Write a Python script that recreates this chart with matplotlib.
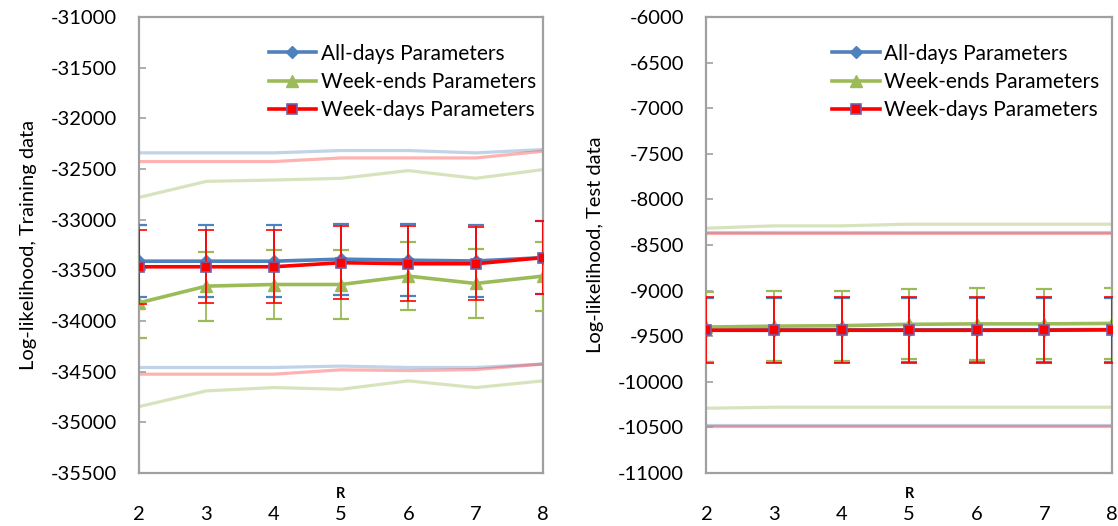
import matplotlib
matplotlib.use('Agg')
import matplotlib.pyplot as plt
from matplotlib.lines import Line2D
import numpy as np

plt.rcParams['font.family'] = ['Lato', 'DejaVu Sans']
plt.rcParams['axes.unicode_minus'] = False

# R values on the x axis
r_vals = [2, 3, 4, 5, 6, 7, 8]
labels = ['All-days Parameters', 'Week-ends Parameters', 'Week-days Parameters']

# training data (left panel)
train_all = [-33410, -33410, -33410, -33390, -33400, -33408, -33375]
train_end = [-33821, -33656, -33640, -33640, -33557, -33630, -33557]
train_day = [-33465, -33465, -33465, -33425, -33435, -33435, -33375]
train_all_err = [355, 355, 355, 352, 355, 355, 360]
train_end_err = [345, 340, 340, 345, 335, 340, 340]
train_day_err = [365, 362, 362, 358, 372, 360, 360]
train_all_hi = [-32341, -32341, -32341, -32318, -32318, -32341, -32308]
train_end_hi = [-32781, -32622, -32609, -32592, -32516, -32592, -32506]
train_day_hi = [-32427, -32427, -32427, -32391, -32391, -32391, -32325]
train_all_lo = [-34459, -34459, -34459, -34445, -34459, -34459, -34425]
train_end_lo = [-34845, -34690, -34657, -34674, -34591, -34657, -34591]
train_day_lo = [-34525, -34525, -34525, -34482, -34490, -34480, -34425]

# test data (right panel)
test_all = [-9430, -9430, -9430, -9430, -9430, -9430, -9428]
test_end = [-9400, -9390, -9385, -9370, -9365, -9365, -9360]
test_day = [-9435, -9435, -9435, -9435, -9435, -9435, -9430]
test_all_err = [350, 350, 350, 350, 350, 350, 350]
test_end_err = [385, 385, 385, 385, 395, 385, 390]
test_day_err = [360, 360, 360, 360, 360, 360, 362]
test_all_hi = [-8356, -8356, -8356, -8356, -8356, -8356, -8356]
test_end_hi = [-8316, -8290, -8290, -8272, -8272, -8272, -8272]
test_day_hi = [-8371, -8371, -8371, -8371, -8371, -8371, -8371]
test_all_lo = [-10478, -10478, -10478, -10478, -10478, -10478, -10478]
test_end_lo = [-10290, -10279, -10279, -10279, -10279, -10279, -10279]
test_day_lo = [-10488, -10488, -10488, -10488, -10488, -10488, -10488]

BLUE = '#4F81BD'
GREEN = '#9BBB59'
RED = '#FF0000'
FRAME = '#A0A0A0'

styles = [
    dict(color=BLUE, marker='D', ms=6, mfc=BLUE, mec=BLUE),
    dict(color=GREEN, marker='^', ms=9, mfc=GREEN, mec=GREEN),
    dict(color=RED, marker='s', ms=6.5, mfc=RED, mec='#7060A8', mew=1.2),
]


def draw_panel(ax, mains, errs, his, los, ylim, ystep, ylabel, leg_x):
    # light bound lines first
    for hi, lo, c, a in zip(his, los, [BLUE, GREEN, RED], [0.35, 0.4, 0.3]):
        ax.plot(r_vals, hi, color=c, alpha=a, lw=2.3, zorder=1)
        ax.plot(r_vals, lo, color=c, alpha=a, lw=2.3, zorder=1)

    for i, (m, e, st) in enumerate(zip(mains, errs, styles)):
        ax.errorbar(r_vals, m, yerr=e, ecolor=st['color'], elinewidth=1.3,
                    capsize=5.5, capthick=1.6, lw=2.6, zorder=3 + i, **st)

    ax.set_xlim(2, 8)
    ax.set_ylim(*ylim)
    ax.set_yticks(np.arange(ylim[0], ylim[1] + 1, ystep))
    ax.set_xticks(r_vals)
    ax.tick_params(axis='y', direction='in', length=5, color=FRAME, width=1.2,
                   labelsize=14.5, pad=16)
    ax.tick_params(axis='x', length=0, labelsize=14.5, pad=24)
    for s in ax.spines.values():
        s.set_color(FRAME)
        s.set_linewidth(1.6)
    ax.set_xlabel('R', fontsize=10.5, fontweight='bold', labelpad=0)
    ax.xaxis.set_label_coords(0.5, -0.03)
    ax.set_ylabel(ylabel, fontsize=14.5, labelpad=10)

    handles = [Line2D([], [], lw=2.6, **st) for st in styles]
    ax.legend(handles, labels, loc='upper left', bbox_to_anchor=(leg_x, 0.96),
              frameon=False, fontsize=15, handlelength=2.3, handletextpad=0.2,
              labelspacing=0.4, borderaxespad=0)


fig = plt.figure(figsize=(11.18, 5.26), dpi=100)
ax1 = fig.add_axes([0.1243, 0.1008, 0.3614, 0.8669])
ax2 = fig.add_axes([0.6319, 0.1008, 0.3625, 0.8669])

draw_panel(ax1, [train_all, train_end, train_day],
           [train_all_err, train_end_err, train_day_err],
           [train_all_hi, train_end_hi, train_day_hi],
           [train_all_lo, train_end_lo, train_day_lo],
           (-35500, -31000), 500, 'Log-likelihood, Training data', 0.3)
draw_panel(ax2, [test_all, test_end, test_day],
           [test_all_err, test_end_err, test_day_err],
           [test_all_hi, test_end_hi, test_day_hi],
           [test_all_lo, test_end_lo, test_day_lo],
           (-11000, -6000), 500, 'Log-likelihood, Test data', 0.29)

fig.savefig('out.png', dpi=100)
